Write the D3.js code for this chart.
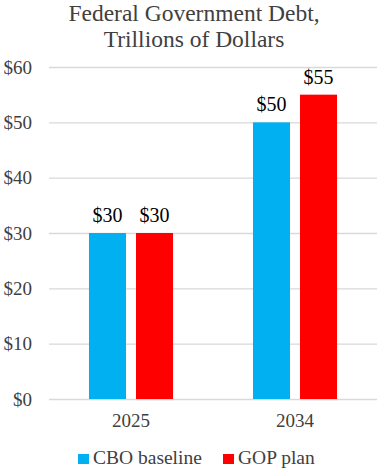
<!DOCTYPE html>
<html>
<head>
<meta charset="utf-8">
<script src="https://cdn.jsdelivr.net/npm/d3@7"></script>
<style>
  body { margin: 0; background: #fff; }
  svg text { font-family: "Liberation Serif", "Times New Roman", serif; }
</style>
</head>
<body>
<div id="chart"></div>
<script>
const years = ["2025", "2034"];
const seriesNames = ["CBO baseline", "GOP plan"];
const cboValues = [30, 50];
const gopValues = [30, 55];
const yTicks = [0, 10, 20, 30, 40, 50, 60];
const colors = ["#00b0f0", "#ff0000"];

const width = 388, height = 470;
const margin = {top: 67, right: 11, bottom: 71, left: 49};
const serif = "'Liberation Serif', 'Times New Roman', serif";

const svg = d3.select("#chart").append("svg")
    .attr("width", width)
    .attr("height", height);

// title
svg.append("text")
    .attr("x", 194).attr("y", 21)
    .attr("text-anchor", "middle")
    .style("font-size", "23.5px").style("fill", "#404040")
    .text("Federal Government Debt,");
svg.append("text")
    .attr("x", 194).attr("y", 47)
    .attr("text-anchor", "middle")
    .style("font-size", "23.5px").style("fill", "#404040")
    .text("Trillions of Dollars");

const xScale = d3.scaleBand()
    .domain(years)
    .range([margin.left, width - margin.right]);

const xInner = d3.scaleBand()
    .domain(seriesNames)
    .range([0, xScale.bandwidth()])
    .paddingInner(0.213)
    .paddingOuter(0.85);

const yScale = d3.scaleLinear()
    .domain([0, 60])
    .range([height - margin.bottom, margin.top]);

// grid lines + y labels
const yAxis = d3.axisLeft(yScale)
    .tickValues(yTicks)
    .tickSize(-(width - margin.left - margin.right))
    .tickFormat(d => "$" + d)
    .tickPadding(17);

const gy = svg.append("g")
    .attr("transform", `translate(${margin.left},0)`)
    .call(yAxis)
    .attr("font-family", null)
    .attr("font-size", null);
gy.select(".domain").remove();
gy.selectAll(".tick line").style("stroke", "#d9d9d9").style("stroke-width", 1.3);
gy.selectAll(".tick text")
    .style("font-size", "19px")
    .style("fill", "#404040")
    .style("font-family", serif);

const data = years.map((y, i) => ({
    year: y,
    values: [
        {name: seriesNames[0], value: cboValues[i]},
        {name: seriesNames[1], value: gopValues[i]}
    ]
}));

const groups = svg.selectAll(".group")
    .data(data)
    .join("g")
    .attr("class", "group")
    .attr("transform", d => `translate(${xScale(d.year)},0)`);

groups.selectAll("rect")
    .data(d => d.values)
    .join("rect")
    .attr("x", d => xInner(d.name))
    .attr("width", xInner.bandwidth())
    .attr("y", d => yScale(d.value))
    .attr("height", d => yScale(0) - yScale(d.value))
    .style("fill", (d, i) => colors[i]);

groups.selectAll(".lbl")
    .data(d => d.values)
    .join("text")
    .attr("class", "lbl")
    .attr("x", d => xInner(d.name) + xInner.bandwidth() / 2)
    .attr("y", d => yScale(d.value) - 11)
    .attr("text-anchor", "middle")
    .style("font-size", "20px")
    .style("fill", "#000")
    .text(d => "$" + d.value);

// x axis labels
const xAxis = d3.axisBottom(xScale).tickSize(0).tickPadding(15);
const gx = svg.append("g")
    .attr("transform", `translate(0,${yScale(0)})`)
    .call(xAxis)
    .attr("font-family", null)
    .attr("font-size", null);
gx.select(".domain").remove();
gx.selectAll(".tick text")
    .style("font-size", "19px")
    .style("fill", "#404040")
    .style("font-family", serif);

// legend
const legendX = [78, 223];
const legend = svg.selectAll(".legend")
    .data(seriesNames)
    .join("g")
    .attr("class", "legend")
    .attr("transform", (d, i) => `translate(${legendX[i]},454)`);
legend.append("rect")
    .attr("width", 11).attr("height", 10)
    .style("fill", (d, i) => colors[i]);
legend.append("text")
    .attr("x", 15).attr("y", 10)
    .style("font-size", "19.5px")
    .style("fill", "#404040")
    .text(d => d);
</script>
</body>
</html>
